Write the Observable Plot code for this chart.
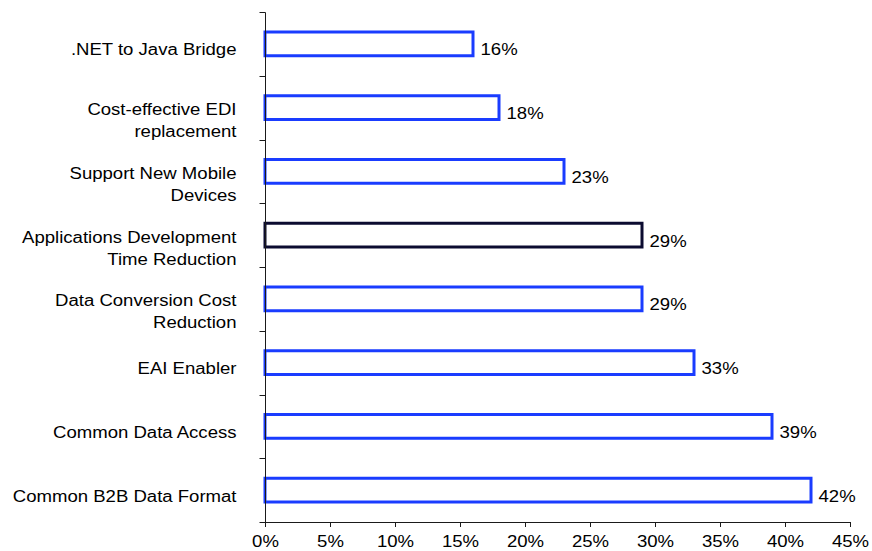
<!DOCTYPE html>
<html><head><meta charset="utf-8">
<script src="https://cdn.jsdelivr.net/npm/d3@7"></script>
<script src="https://cdn.jsdelivr.net/npm/@observablehq/plot@0.6"></script>
<style>body{margin:0;background:#fff}</style>
</head><body><div id="chart"></div>
<script>
const categories = [
  ".NET to Java Bridge",
  "Cost-effective EDI\nreplacement",
  "Support New Mobile\nDevices",
  "Applications Development\nTime Reduction",
  "Data Conversion Cost\nReduction",
  "EAI Enabler",
  "Common Data Access",
  "Common B2B Data Format"
];
const values = [16, 18, 23, 29, 29, 33, 39, 42];
const xTicks = [0, 5, 10, 15, 20, 25, 30, 35, 40, 45];
const highlighted = "Applications Development\nTime Reduction";

const data = categories.map((c, i) => ({category: c, value: values[i]}));
const BLUE = "#1a3cff", DARK = "#0b0b30";

function axisLines(index, scales) {
  const {x, y} = scales;
  const g = d3.create("svg:g").attr("stroke", "#1a1a1a").attr("stroke-width", 1).attr("fill", "none");
  const dom = y.domain();
  const bw = y.bandwidth ? y.bandwidth() : 0;
  const bounds = dom.map(c => y(c)).concat([y(dom[dom.length - 1]) + bw]).map(v => Math.round(v) + 0.5);
  const x0 = Math.round(x(0)) + 0.5;
  const xEnd = Math.round(x(d3.max(xTicks))) + 0.5;
  const yTop = bounds[0], yBot = bounds[bounds.length - 1];
  g.append("line").attr("x1", x0).attr("x2", x0).attr("y1", yTop).attr("y2", yBot);
  g.append("line").attr("x1", x0).attr("x2", xEnd).attr("y1", yBot).attr("y2", yBot);
  bounds.forEach(b => g.append("line").attr("x1", x0 - 6).attr("x2", x0).attr("y1", b).attr("y2", b));
  return g.node();
}

const chart = Plot.plot({
  width: 872,
  height: 551,
  marginTop: 12,
  marginBottom: 29,
  marginLeft: 265,
  marginRight: 22,
  style: {fontFamily: "'Liberation Sans', Arial, sans-serif", fontSize: "16px", background: "white", color: "black"},
  x: {domain: [0, 45], axis: null},
  y: {domain: categories, padding: 0, round: false, axis: null},
  marks: [
    Plot.barX(data, {
      x: "value", y: "category",
      insetTop: 20, insetBottom: 20,
      fill: "white",
      stroke: d => d.category === highlighted ? DARK : BLUE,
      strokeWidth: 3
    }),
    Plot.axisX({ticks: xTicks, tickSize: 5, tickPadding: 8, tickFormat: d => d + "%", fontSize: 16, stroke: "#1a1a1a", label: null}),
    axisLines,
    Plot.text(data.filter(d => !d.category.includes("\n")), {
      y: "category", text: "category", frameAnchor: "left",
      textAnchor: "end", dx: -29, dy: 6, fontSize: 16
    }),
    Plot.text(data.filter(d => d.category.includes("\n")), {
      y: "category", text: "category", frameAnchor: "left",
      textAnchor: "end", dx: -29, dy: 11, lineHeight: 1.375, fontSize: 16
    }),
    Plot.text(data, {
      x: "value", y: "category", text: d => d.value + "%",
      textAnchor: "start", dx: 7, dy: 6, fontSize: 16
    })
  ]
});

// widen glyphs horizontally to match the reference's stretched lettering
chart.querySelectorAll("text").forEach(t => {
  const tr = t.getAttribute("transform");
  if (tr) {
    t.setAttribute("transform", tr + " scale(1.16,1)");
  } else {
    const x = +(t.getAttribute("x") || 0), y = +(t.getAttribute("y") || 0);
    t.removeAttribute("x"); t.removeAttribute("y");
    t.setAttribute("transform", `translate(${x},${y}) scale(1.16,1)`);
  }
});

document.getElementById("chart").appendChild(chart);
</script>
</body></html>
